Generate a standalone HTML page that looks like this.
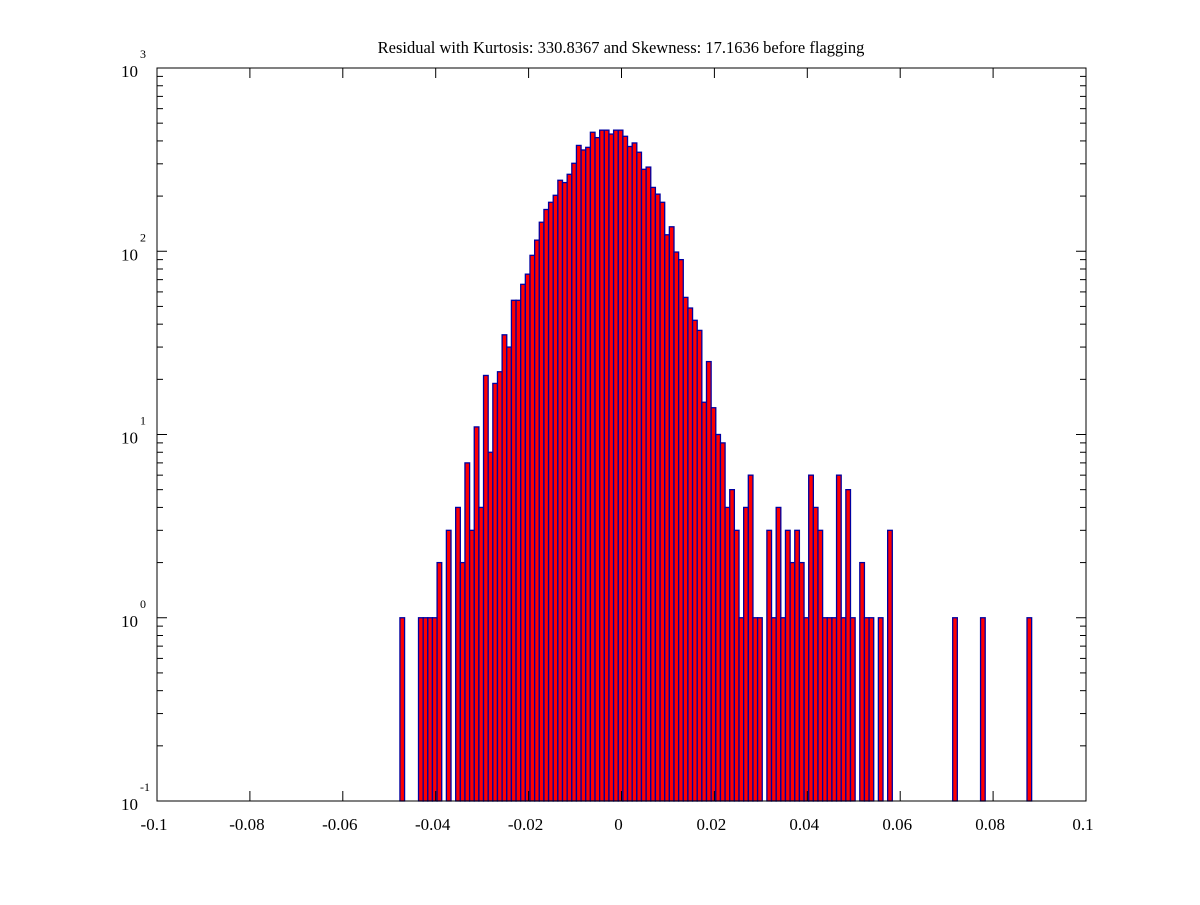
<!DOCTYPE html>
<html><head><meta charset="utf-8"><style>
html,body{margin:0;padding:0;background:#fff;}
svg text{font-family:"Liberation Serif",serif;fill:#000;}
</style></head><body>
<svg id="chart" width="1200" height="900" viewBox="0 0 1200 900" xmlns="http://www.w3.org/2000/svg">
<rect width="1200" height="900" fill="#fff"/>
<text x="621" y="53" font-size="16.5" text-anchor="middle">Residual with Kurtosis: 330.8367 and Skewness: 17.1636 before flagging</text>
<g id="bars"></g>
<g id="axes"></g>
</svg>
<script>
const counts = [1,0,0,0,1,1,1,1,2,0,3,0,4,2,7,3,11,4,21,8,19,22,35,30,54,54,66,75,95,115,144,169,185,202,244,237,263,302,378,357,369,446,417,458,458,436,458,458,424,373,
390,347,280,288,223,205,185,123,136,99,90,56,49,42,37,15,25,14,10,9,4,5,3,1,4,6,1,1,0,3,1,4,1,3,2,3,2,1,6,4,3,1,1,1,6,1,5,1,
0,2,1,1,0,1,0,3,0,0,0,0,0,0,0,0,0,0,0,0,0,1,0,0,0,0,0,1,0,0,0,0,0,0,0,0,0,1];
const firstBin = -0.0472;
const binWidth = 0.001;
const xTicks = [-0.1,-0.08,-0.06,-0.04,-0.02,0,0.02,0.04,0.06,0.08,0.1];
const xTickLabels = ["-0.1","-0.08","-0.06","-0.04","-0.02","0","0.02","0.04","0.06","0.08","0.1"];
const yExps = [-1,0,1,2,3];

const X0=157,X1=1086,Y0=801,Y1=68;
const xMin=-0.1,xMax=0.1,lMin=-1,lMax=3;
const xs=v=>X0+(v-xMin)/(xMax-xMin)*(X1-X0);
const ys=v=>Y0-(Math.log10(v)-lMin)/(lMax-lMin)*(Y0-Y1);
const NS="http://www.w3.org/2000/svg";
function mk(tag,attrs,parent){const e=document.createElementNS(NS,tag);for(const k in attrs)e.setAttribute(k,attrs[k]);parent.appendChild(e);return e;}

const bars=document.getElementById('bars');
counts.forEach((c,i)=>{
  if(c<=0)return;
  const cx=firstBin+i*binWidth;
  const xl=xs(cx-binWidth/2), xr=xs(cx+binWidth/2);
  const yt=ys(c);
  const r=mk('rect',{x:xl.toFixed(2),y:yt.toFixed(2),width:(xr-xl).toFixed(2),height:(Y0-yt).toFixed(2),fill:'#ff0000',stroke:'#0000a0','stroke-width':1.3},bars);
  
  
});

const ax=document.getElementById('axes');
const frame=mk('rect',{x:X0,y:Y1,width:X1-X0,height:Y0-Y1,fill:'none',stroke:'#000','stroke-width':1},ax);


xTicks.forEach((t,i)=>{
  const x=xs(t);
  mk('line',{x1:x,y1:Y0,x2:x,y2:Y0-10,stroke:'#000'},ax);
  mk('line',{x1:x,y1:Y1,x2:x,y2:Y1+10,stroke:'#000'},ax);
  const tx=mk('text',{x:x-3,y:830,'font-size':17,'text-anchor':'middle'},ax);
  tx.textContent=xTickLabels[i];
  
  
});
yExps.forEach((e,i)=>{
  const y=ys(Math.pow(10,e));
  mk('line',{x1:X0,y1:y,x2:X0+10,y2:y,stroke:'#000'},ax);
  mk('line',{x1:X1,y1:y,x2:X1-10,y2:y,stroke:'#000'},ax);
  const t=mk('text',{x:138,y:y+9,'font-size':17,'text-anchor':'end'},ax);
  t.textContent='10';
  
  
  const s=mk('text',{x:140,y:y-10,'font-size':12},ax);
  s.textContent=String(e);
  
  
  if(i<yExps.length-1){
    for(let m=2;m<=9;m++){
      const ym=ys(m*Math.pow(10,e));
      mk('line',{x1:X0,y1:ym,x2:X0+6,y2:ym,stroke:'#000'},ax);
      mk('line',{x1:X1,y1:ym,x2:X1-6,y2:ym,stroke:'#000'},ax);
    }
  }
});
</script>
</body></html>
